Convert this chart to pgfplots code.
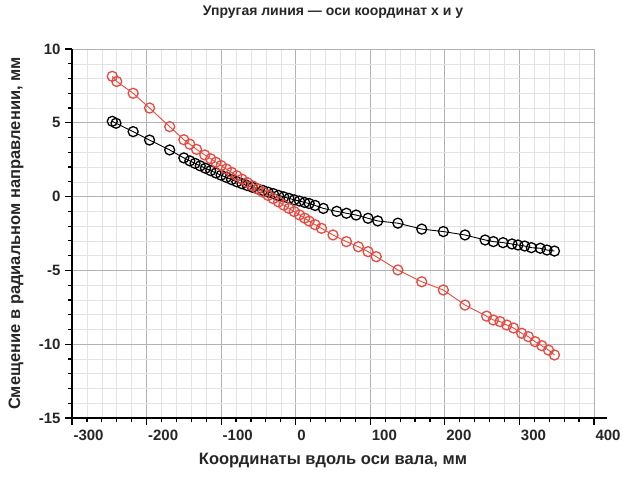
\documentclass[border=0pt]{standalone}
\usepackage{fontspec}
\setmainfont{Liberation Sans}
\usepackage{pgfplots}
\pgfplotsset{compat=1.18}
\definecolor{redc}{RGB}{228,75,65}
\begin{document}
\begin{tikzpicture}
\begin{axis}[
 scale only axis, width=522pt, height=369pt,
 xmin=-300,xmax=400,ymin=-15,ymax=10,
 xtick={-300,-200,...,400}, ytick={-15,-10,...,10},
 minor x tick num=4, minor y tick num=4,
 grid=both,
 major grid style={gray!60, line width=0.9pt},
 minor grid style={gray!22, line width=0.5pt},
 axis x line=bottom, axis y line=left,
 axis line style={-, line width=1.3pt, black},
 x axis line style={shorten >=-13pt},
 tick align=outside,
 major tick length=7pt, minor tick length=4pt,
 tick style={black, line width=1.2pt},
 ticklabel style={font=\fontsize{15}{17}\selectfont\bfseries, text=black!85},
 xticklabel style={anchor=north west, xshift=-2pt, yshift=-1pt},
 yticklabel style={xshift=-1pt},
 /pgf/number format/assume math mode=true,
 title={Упругая линия — оси координат x и y},
 title style={at={(axis description cs:0.5,1)}, anchor=center, yshift=31pt, font=\fontsize{14}{17}\selectfont\bfseries, text=black!85},
 xlabel={Координаты вдоль оси вала, мм},
 xlabel style={at={(axis description cs:0.5,0)}, anchor=center, yshift=-43pt, font=\fontsize{16.5}{19}\selectfont\bfseries, text=black!85},
 ylabel={Смещение в радиальном направлении, мм},
 ylabel style={at={(axis description cs:-0.107,0.5)}, anchor=center, font=\fontsize{16.5}{19}\selectfont\bfseries, text=black!85},
]
\addplot[black, line width=0.9pt, mark=o, mark size=5pt, mark options={line width=1.3pt, solid}] coordinates {
(-246,5.1) (-241,4.97) (-218,4.4) (-196,3.83) (-169,3.16) (-150,2.62) (-142,2.42)
(-135,2.25) (-128,2.08) (-121,1.92) (-114,1.76) (-107,1.6) (-100,1.45) (-93,1.3)
(-86,1.15) (-79,1.0) (-72,0.87) (-65,0.75) (-58,0.63) (-51,0.52) (-44,0.42)
(-37,0.3) (-30,0.2) (-23,0.08) (-16,-0.02) (-9,-0.12) (-2,-0.22) (5,-0.3)
(12,-0.4) (18,-0.47) (26,-0.6) (37,-0.8) (55,-1.0) (68,-1.13) (81,-1.25)
(97,-1.47) (110,-1.65) (137,-1.8) (169,-2.2) (198,-2.37) (227,-2.6) (254,-2.94)
(265,-3.05) (278,-3.12) (290,-3.21) (298,-3.28) (307,-3.35) (316,-3.46) (328,-3.5)
(337,-3.62) (347,-3.69)
};
\addplot[redc, line width=0.9pt, mark=o, mark size=5pt, mark options={line width=1.3pt, solid}] coordinates {
(-246,8.15) (-240,7.8) (-218,7.0) (-196,6.0) (-169,4.74) (-150,3.85) (-142,3.55)
(-133,3.2) (-122,2.82) (-114,2.56) (-107,2.33) (-100,2.1) (-93,1.87) (-86,1.64)
(-79,1.41) (-72,1.18) (-65,0.95) (-58,0.73) (-51,0.51) (-44,0.3) (-37,0.08)
(-30,-0.14) (-23,-0.36) (-16,-0.58) (-9,-0.8) (-2,-1.02) (5,-1.24) (12,-1.46)
(18,-1.66) (26,-1.9) (34.5,-2.15) (50,-2.6) (68,-3.05) (84,-3.4) (97,-3.73)
(108,-4.07) (137,-4.97) (169,-5.77) (198,-6.33) (227,-7.35) (256,-8.1) (265,-8.36)
(274,-8.47) (283,-8.7) (292,-8.9) (303,-9.26) (312,-9.49) (321,-9.83) (330,-10.1)
(339,-10.4) (347,-10.73)
};
\end{axis}
\pgfresetboundingbox
\path[use as bounding box] ([shift={(-72pt,-68pt)}]current axis.south west) rectangle ([shift={(29pt,49pt)}]current axis.north east);
\end{tikzpicture}
\end{document}
